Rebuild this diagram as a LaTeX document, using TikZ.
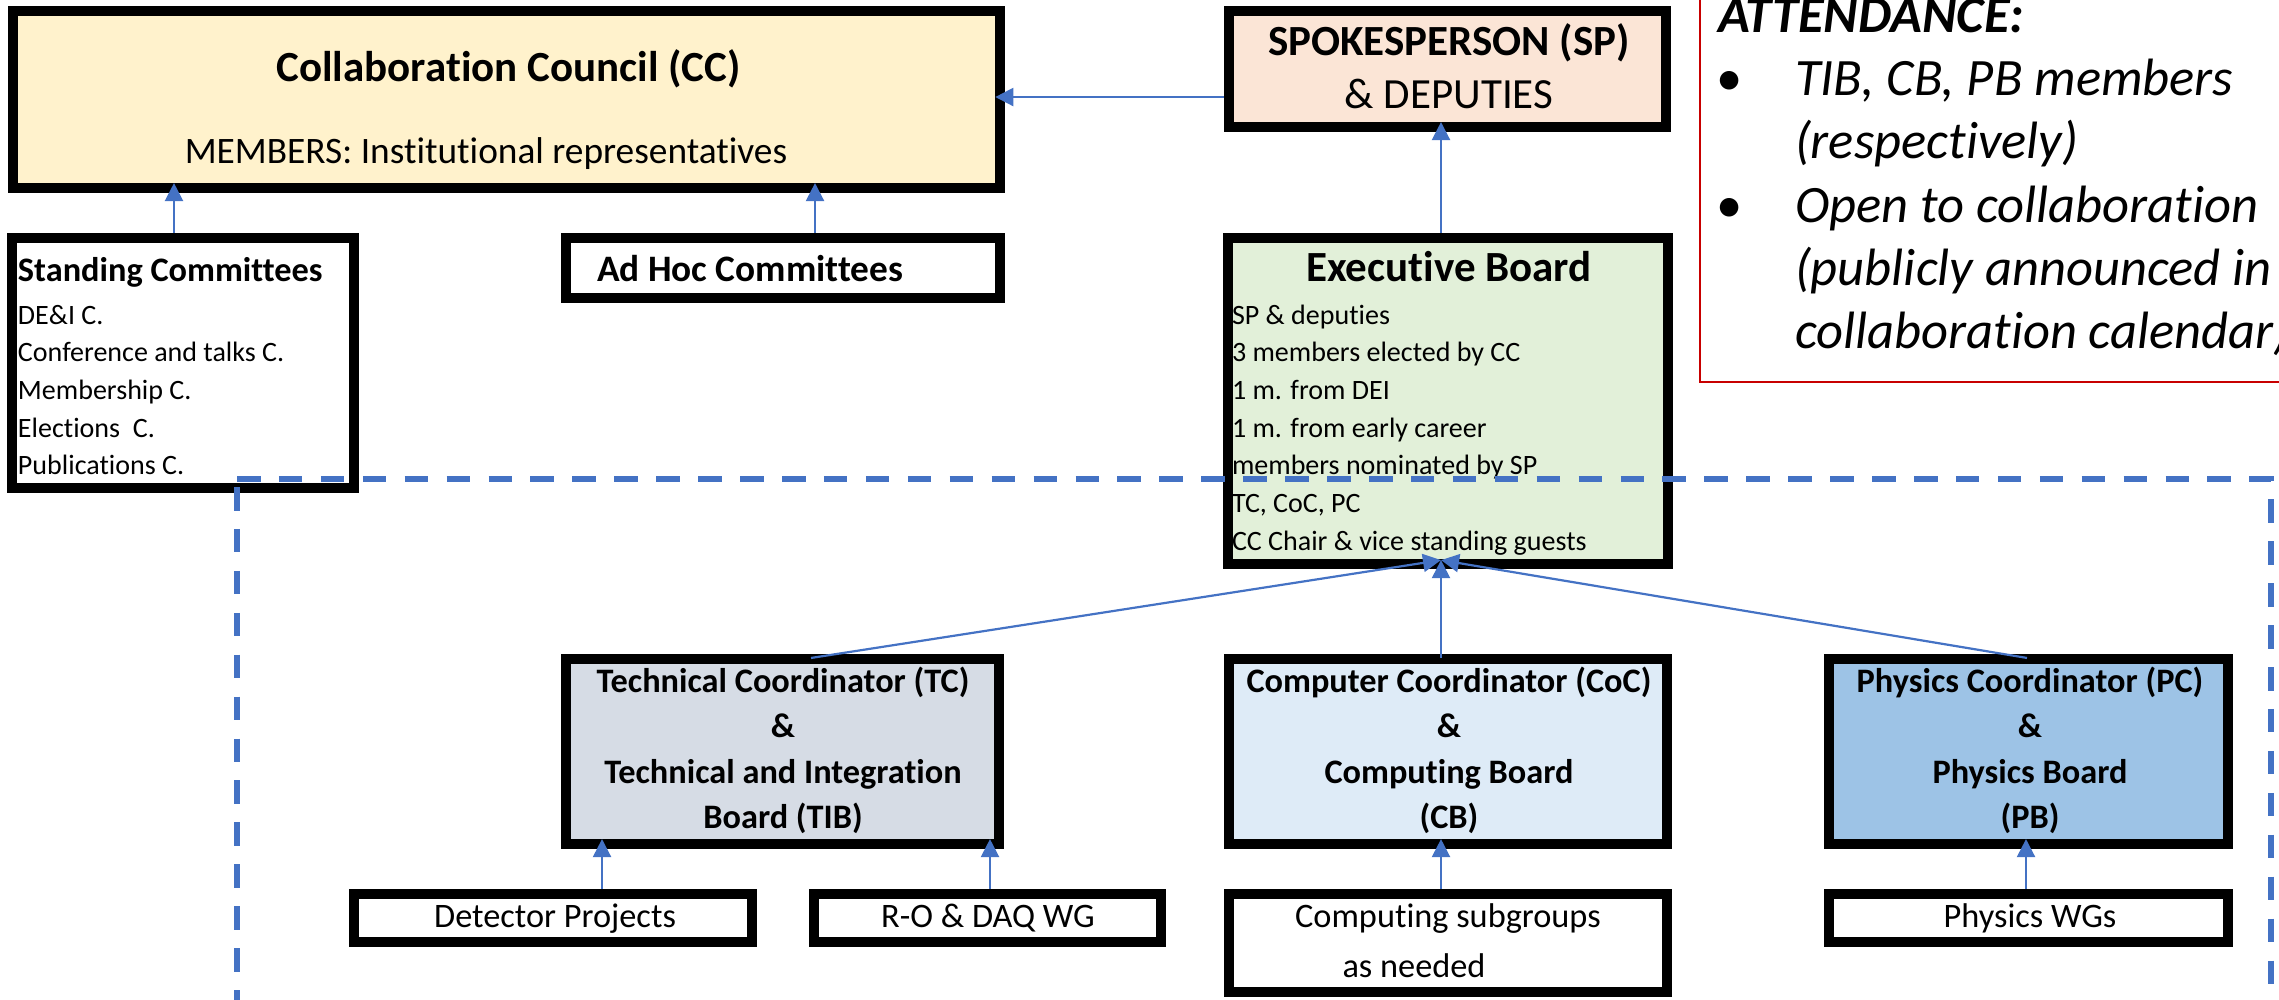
\documentclass[tikz,border=0pt]{standalone}
\usepackage{fontspec}
\setmainfont{Carlito}[Ligatures={NoCommon,NoContextual}]
\usetikzlibrary{arrows.meta}
\definecolor{ccfill}{HTML}{FFF2CC}
\definecolor{spfill}{HTML}{FBE5D6}
\definecolor{ebfill}{HTML}{E2F0D9}
\definecolor{tibfill}{HTML}{D6DCE5}
\definecolor{cocfill}{HTML}{DEEBF7}
\definecolor{pcfill}{HTML}{9DC3E6}
\definecolor{arrowblue}{HTML}{4472C4}
\definecolor{attred}{RGB}{200,0,0}
\newcommand\fsA{\fontsize{12.23pt}{14pt}\selectfont}
\newcommand\fsB{\fontsize{10.62pt}{13pt}\selectfont}
\newcommand\fsC{\fontsize{9.76pt}{12pt}\selectfont}
\newcommand\fsS{\fontsize{7.97pt}{10pt}\selectfont}
\newcommand\fsD{\fontsize{14.94pt}{18pt}\selectfont}
\begin{document}
\begin{tikzpicture}[x=0.01cm,y=-0.01cm,
  box/.style={draw=black, line width=0.1cm, rectangle, inner sep=0pt, outer sep=0pt},
  attbox/.style={draw=attred, line width=0.022cm, rectangle, inner sep=0pt, outer sep=0pt},
  t/.style={inner sep=0pt, outer sep=0pt, anchor=base},
  tl/.style={inner sep=0pt, outer sep=0pt, anchor=base west},
  arr/.style={draw=arrowblue, line width=0.022cm, -{Triangle[length=0.18cm,width=0.18cm]}},
  vin/.style={shorten <=0.05cm, shorten >=-0.05cm},
  dashbox/.style={draw=arrowblue, line width=0.06cm, dash pattern=on 0.235cm off 0.184cm}]
\useasboundingbox (0,0) rectangle (2279,999);

% ---------------- boxes ----------------
\node[box, fill=ccfill, minimum width=9.87cm, minimum height=1.77cm] (CC) at (506.5,99.5) {};
\node[box, fill=spfill, minimum width=4.37cm, minimum height=1.16cm] (SP) at (1447.5,69) {};
\node[box, fill=ebfill, minimum width=4.40cm, minimum height=3.26cm] (EB) at (1448,401) {};
\node[box, fill=white, minimum width=3.42cm, minimum height=2.50cm] (SC) at (183,363) {};
\node[box, fill=white, minimum width=4.34cm, minimum height=0.60cm] (AH) at (783,268) {};
\node[box, fill=tibfill, minimum width=4.33cm, minimum height=1.85cm] (TIB) at (782.5,751.5) {};
\node[box, fill=cocfill, minimum width=4.38cm, minimum height=1.85cm] (COC) at (1448,751.5) {};
\node[box, fill=pcfill, minimum width=3.99cm, minimum height=1.85cm] (PC) at (2028.5,751.5) {};
\node[box, fill=white, minimum width=3.98cm, minimum height=0.48cm] (DP) at (553,918) {};
\node[box, fill=white, minimum width=3.47cm, minimum height=0.48cm] (RO) at (987.5,918) {};
\node[box, fill=white, minimum width=4.38cm, minimum height=0.98cm] (CS) at (1448,943) {};
\node[box, fill=white, minimum width=3.99cm, minimum height=0.48cm] (PW) at (2028.5,918) {};
\node[attbox, minimum width=6.00cm, minimum height=4.02cm] (ATT) at (2000,181) {};

% ---------------- texts ----------------
\node[t, font=\fsA\bfseries] (cc1) at (508.5,81) {Collaboration Council (CC)};
\node[t, font=\fsB] (cc2) at (486,163) {MEMBERS: Institutional representatives};

\node[t, font=\fsA\bfseries] (sp1) at (1449,55) {SPOKESPERSON (SP)};
\node[t, font=\fsA] (sp2) at (1449,108) {\& DEPUTIES};

\node[t, font=\fsA\bfseries] (eb0) at (1449,281) {Executive Board};
\node[tl, font=\fsS] (eb1) at (1232,324) {SP \& deputies};
\node[tl, font=\fsS] (eb2) at (1232,361.7) {3 members elected by CC};
\node[tl, font=\fsS] (eb3) at (1232,399.4) {1 m. from DEI};
\node[tl, font=\fsS] (eb4) at (1232,437.1) {1 m. from early career};
\node[tl, font=\fsS] (eb5) at (1232,474.8) {members nominated by SP};
\node[tl, font=\fsS] (eb6) at (1232,512.5) {TC, CoC, PC};
\node[tl, font=\fsS] (eb7) at (1232,550.2) {CC Chair \& vice standing guests};

\node[tl, font=\fsC\bfseries] (sc0) at (18,281) {Standing Committees};
\node[tl, font=\fsS] (sc1) at (18,324) {DE\&I C.};
\node[tl, font=\fsS] (sc2) at (18,361.7) {Conference and talks C.};
\node[tl, font=\fsS] (sc3) at (18,399.4) {Membership C.};
\node[tl, font=\fsS] (sc4) at (18,437.1) {Elections\ \ C.};
\node[tl, font=\fsS] (sc5) at (18,474.8) {Publications C.};

\node[tl, font=\fsB\bfseries] (ah0) at (597,281) {Ad Hoc Committees};

\node[t, font=\fsC\bfseries] (tib1) at (783,692) {Technical Coordinator (TC)};
\node[t, font=\fsC\bfseries] (tib2) at (783,737.5) {\&};
\node[t, font=\fsC\bfseries] (tib3) at (783,783) {Technical and Integration};
\node[t, font=\fsC\bfseries] (tib4) at (783,828) {Board (TIB)};

\node[t, font=\fsC\bfseries] (coc1) at (1449,692) {Computer Coordinator (CoC)};
\node[t, font=\fsC\bfseries] (coc2) at (1449,737.5) {\&};
\node[t, font=\fsC\bfseries] (coc3) at (1449,783) {Computing Board};
\node[t, font=\fsC\bfseries] (coc4) at (1449,828) {(CB)};

\node[t, font=\fsC\bfseries] (pc1) at (2030,692) {Physics Coordinator (PC)};
\node[t, font=\fsC\bfseries] (pc2) at (2030,737.5) {\&};
\node[t, font=\fsC\bfseries] (pc3) at (2030,783) {Physics Board};
\node[t, font=\fsC\bfseries] (pc4) at (2030,828) {(PB)};

\node[t, font=\fsC] (dp0) at (555,927) {Detector Projects};
\node[t, font=\fsC] (ro0) at (988,927) {R-O \& DAQ WG};
\node[t, font=\fsC] (cs1) at (1448,927) {Computing subgroups};
\node[t, font=\fsC] (cs2) at (1414,977) {as needed};
\node[t, font=\fsC] (pw0) at (2030,927) {Physics WGs};

\node[tl, font=\fsD\bfseries\itshape] (at0) at (1718,32) {ATTENDANCE:};
\node[t, font=\fsD] (bu1) at (1730,95) {•};
\node[t, font=\fsD] (bu2) at (1730,222) {•};
\node[tl, font=\fsD\itshape] (at1) at (1795,95) {TIB, CB, PB members};
\node[tl, font=\fsD\itshape] (at2) at (1795,158) {(respectively)};
\node[tl, font=\fsD\itshape] (at3) at (1795,222) {Open to collaboration};
\node[tl, font=\fsD\itshape] (at4) at (1795,285) {(publicly announced in};
\node[tl, font=\fsD\itshape] (at5) at (1795,348) {collaboration calendar)};

% ---------------- dashed frame ----------------
\coordinate (dtl) at (237,479);
\coordinate (dtr) at (2271,479);
\coordinate (dbr) at (2271,1003);
\coordinate (dl1) at (237,487);
\coordinate (dbl) at (237,1003);
\draw[dashbox] (dtl) -- (dtr) -- (dbr) -- (dbl);
\draw[dashbox] (dl1) -- (dbl);

% ---------------- connectors ----------------
\coordinate (spw) at ([yshift=-0.28cm]SP.west);
\draw[arr, vin] (spw) -- (spw -| CC.east);
\coordinate (scn) at ([xshift=-0.09cm]SC.north);
\draw[arr, vin] (scn) -- (scn |- CC.south);
\coordinate (ahn) at ([xshift=0.32cm]AH.north);
\draw[arr, vin] (ahn) -- (ahn |- CC.south);
\coordinate (ebn) at ([xshift=-0.07cm]EB.north);
\draw[arr, vin] (ebn) -- (ebn |- SP.south);

\coordinate (ebin) at ([xshift=-0.07cm,yshift=0.04cm]EB.south);
\draw[arr] ([xshift=0.285cm,yshift=0.01cm]TIB.north) -- (ebin);
\draw[arr] ([xshift=-0.07cm,yshift=0.01cm]COC.north) -- (ebin);
\draw[arr] ([xshift=-0.015cm,yshift=0.01cm]PC.north) -- (ebin);

\coordinate (dpn) at ([xshift=0.49cm]DP.north);
\draw[arr, vin] (dpn) -- (dpn |- TIB.south);
\coordinate (ron) at ([xshift=0.025cm]RO.north);
\draw[arr, vin] (ron) -- (ron |- TIB.south);
\coordinate (csn) at ([xshift=-0.07cm]CS.north);
\draw[arr, vin] (csn) -- (csn |- COC.south);
\coordinate (pwn) at ([xshift=-0.025cm]PW.north);
\draw[arr, vin] (pwn) -- (pwn |- PC.south);
\end{tikzpicture}
\end{document}
